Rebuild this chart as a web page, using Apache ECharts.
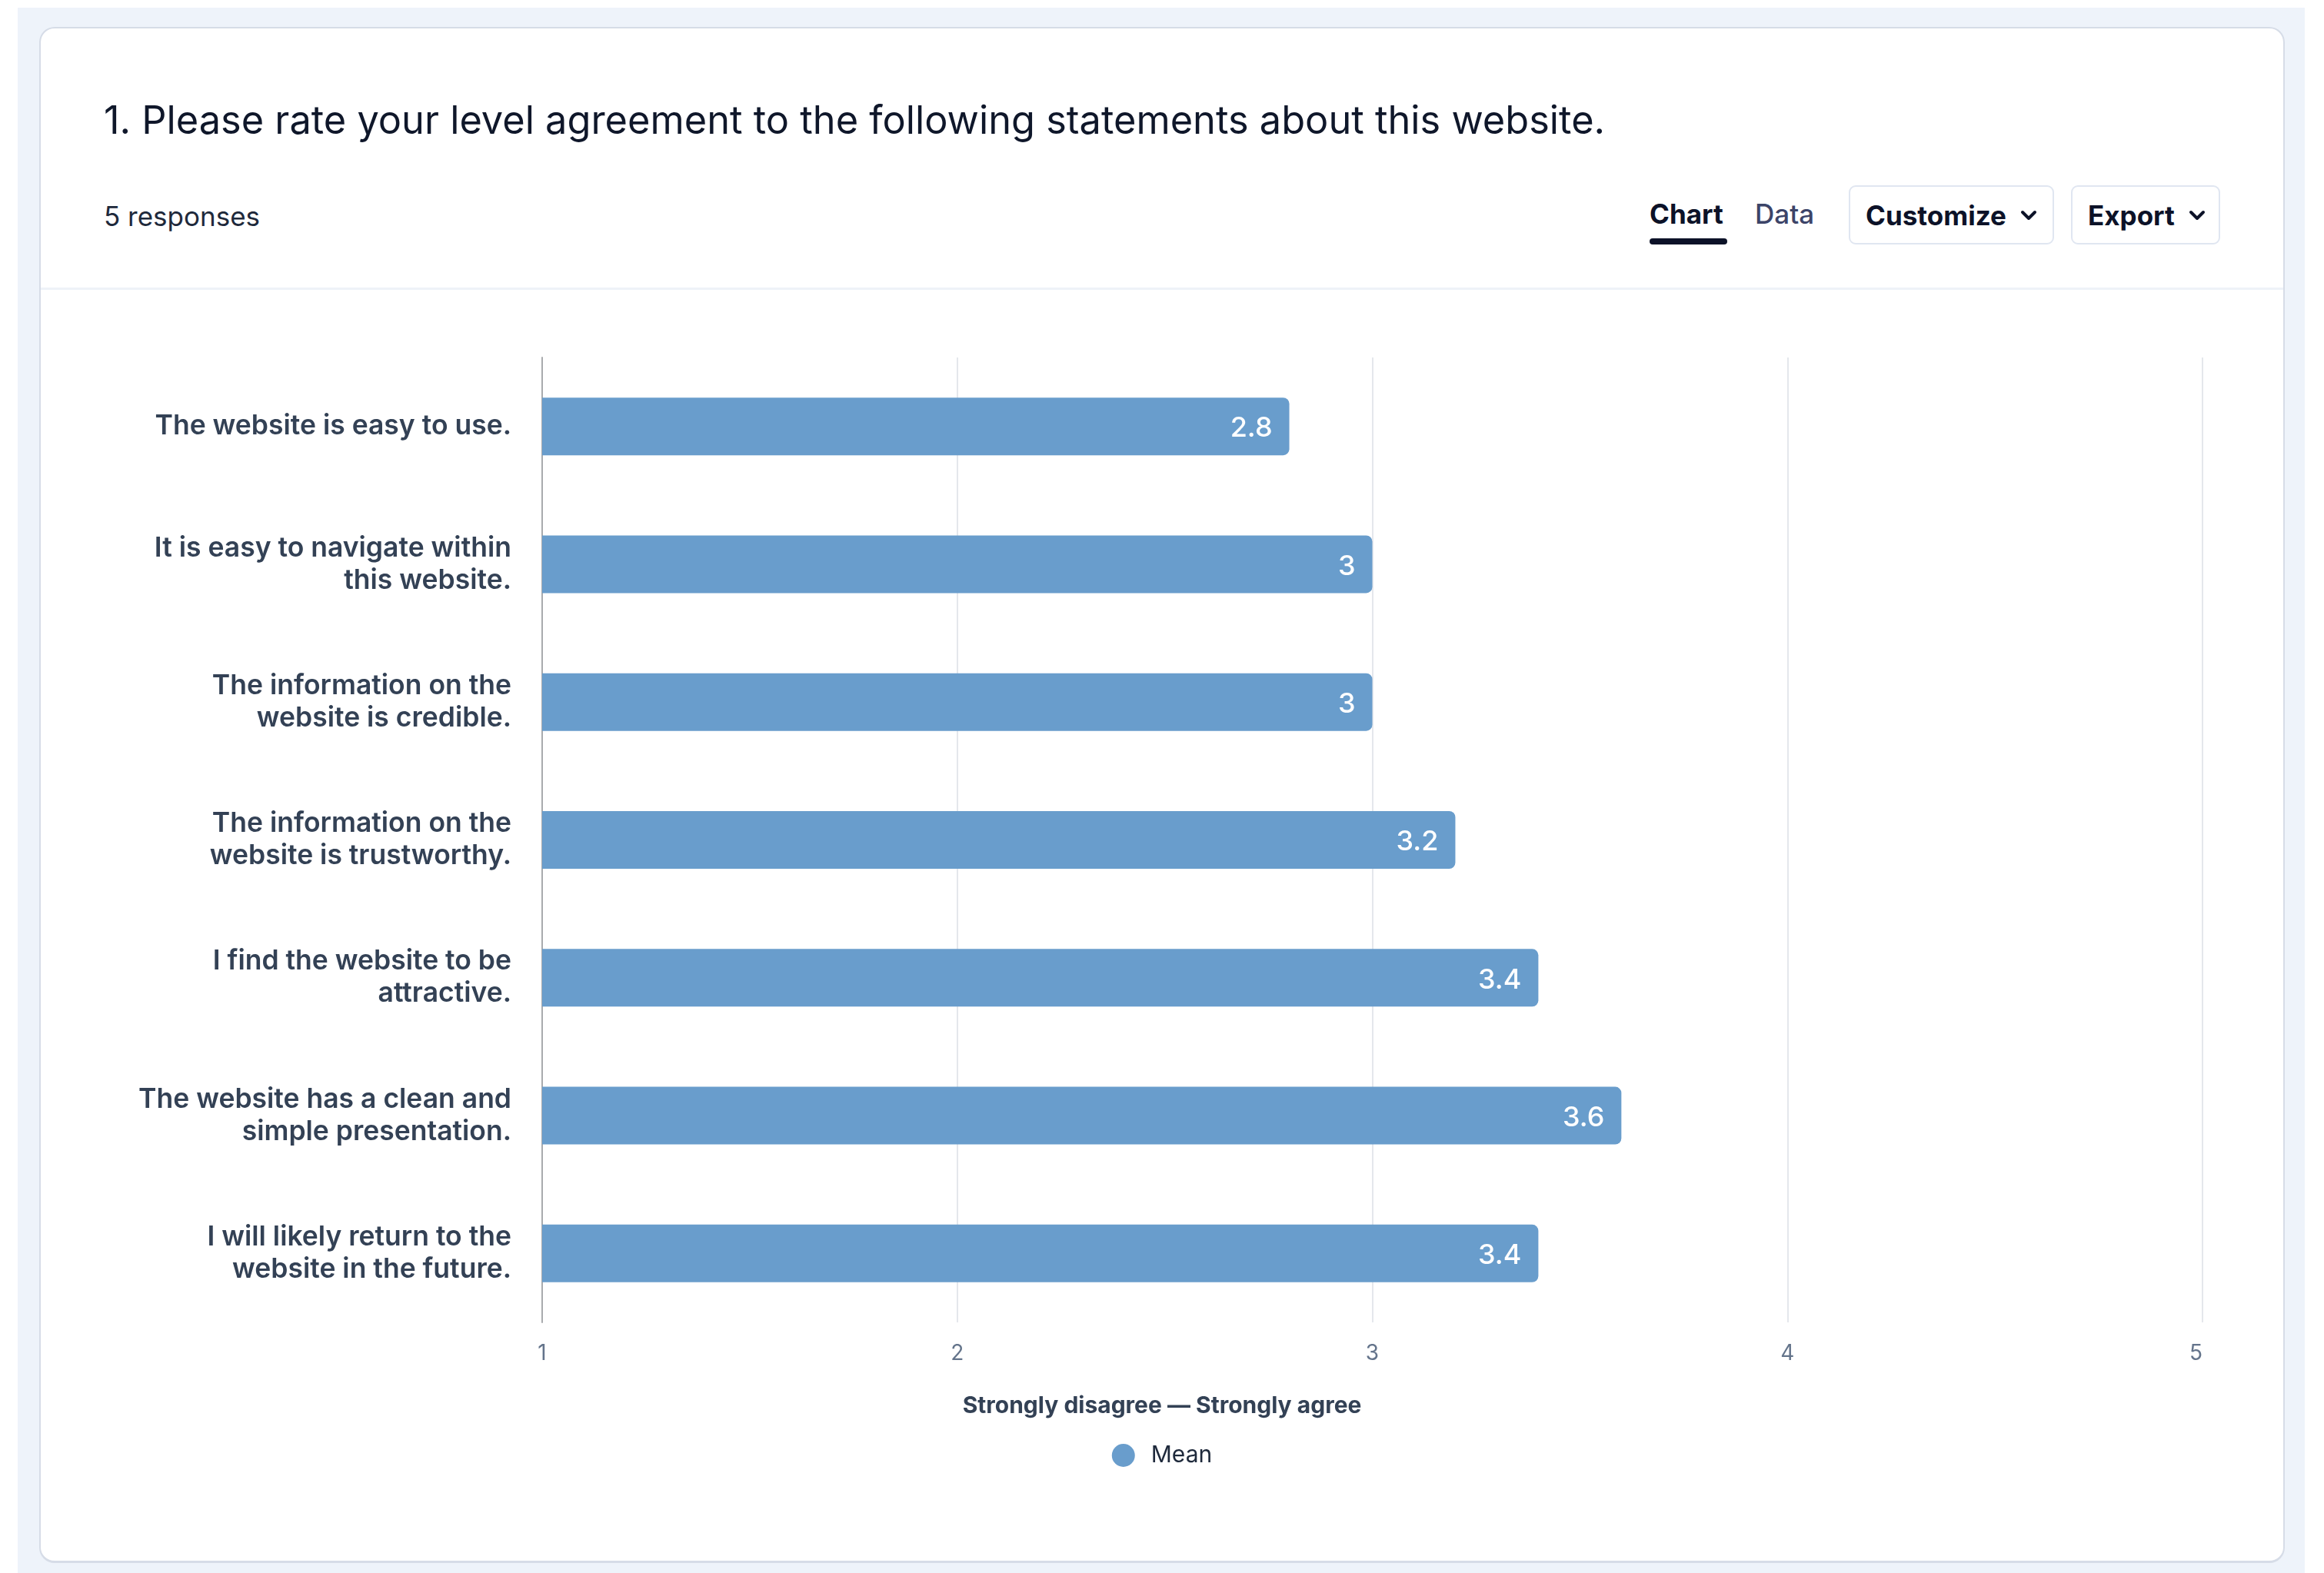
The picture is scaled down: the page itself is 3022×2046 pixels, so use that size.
<!DOCTYPE html>
<html>
<head>
<meta charset="utf-8">
<script src="https://cdn.jsdelivr.net/npm/echarts@6/dist/echarts.min.js"></script>
<style>
  html, body { margin: 0; padding: 0; width: 3022px; height: 2046px; background: #ffffff; overflow: hidden; font-family: Inter, "Noto Sans", sans-serif; }
  .page-bg { position: absolute; left: 23px; top: 10px; width: 2974px; height: 2036px; background: #eef3fa; }
  .card { position: absolute; left: 51px; top: 35px; width: 2920px; height: 1998px; box-sizing: border-box;
          background: #ffffff; border: 2px solid #d6dce7; border-bottom-width: 3px; border-radius: 20px; }
  .txt { position: absolute; white-space: nowrap; line-height: 1; }
  .title { left: 135px; top: 131px; font-size: 50.5px; color: #0f172a; font-weight: 400; }
  .responses { left: 135px; top: 264px; font-size: 35px; color: #1e293b; }
  .tab { top: 261px; font-size: 35px; }
  .tab-chart { left: 2145px; font-weight: 700; color: #0c1228; }
  .tab-data { left: 2282px; font-weight: 500; color: #3c4468; }
  .tab-line { position: absolute; left: 2145px; top: 310px; width: 101px; height: 8px; border-radius: 4px; background: #0c1228; }
  .btn { position: absolute; top: 241px; height: 77px; box-sizing: border-box; border: 2px solid #e0e6f1; border-radius: 9px;
         background: #fff; display: flex; align-items: center; font-size: 35px; font-weight: 700; color: #0c1228; }
  .btn svg { margin-left: 18px; }
  .btn-customize { left: 2404px; width: 267px; padding-left: 20px; }
  .btn-export { left: 2693px; width: 194px; padding-left: 20px; }
  .divider { position: absolute; left: 53px; top: 374px; width: 2916px; height: 3px; background: #eef2f8; }
  #chart { position: absolute; left: 0; top: 0; width: 3022px; height: 2046px; }
</style>
</head>
<body>
<div class="page-bg"></div>
<div class="card"></div>
<div class="txt title">1. Please rate your level agreement to the following statements about this website.</div>
<div class="txt responses">5 responses</div>
<div class="txt tab tab-chart">Chart</div>
<div class="txt tab tab-data">Data</div>
<div class="tab-line"></div>
<div class="btn btn-customize">Customize<svg width="22" height="14" viewBox="0 0 22 14"><polyline points="3,3 11,11 19,3" fill="none" stroke="#0c1228" stroke-width="4" stroke-linecap="round" stroke-linejoin="round"/></svg></div>
<div class="btn btn-export">Export<svg width="22" height="14" viewBox="0 0 22 14"><polyline points="3,3 11,11 19,3" fill="none" stroke="#0c1228" stroke-width="4" stroke-linecap="round" stroke-linejoin="round"/></svg></div>
<div class="divider"></div>
<div id="chart"></div>
<script>
// Survey statements (top to bottom) and their mean scores on a 1-5 scale
const statements = [
  'The website is easy to use.',
  'It is easy to navigate within\nthis website.',
  'The information on the\nwebsite is credible.',
  'The information on the\nwebsite is trustworthy.',
  'I find the website to be\nattractive.',
  'The website has a clean and\nsimple presentation.',
  'I will likely return to the\nwebsite in the future.'
];
const meanScores = [2.8, 3, 3, 3.2, 3.4, 3.6, 3.4];
const scaleTicks = [1, 2, 3, 4, 5];
const scaleName = 'Strongly disagree \u2014 Strongly agree';
const seriesName = 'Mean';

const chart = echarts.init(document.getElementById('chart'), null, { renderer: 'canvas' });
const FONT = 'Inter, "Noto Sans", sans-serif';

chart.setOption({
  backgroundColor: 'transparent',
  animation: false,
  textStyle: { fontFamily: FONT },
  title: {
    text: scaleName,
    left: 'center',
    top: 1814,
    padding: 0,
    textStyle: { fontFamily: FONT, fontSize: 30, fontWeight: 700, color: '#334155' }
  },
  legend: {
    data: [seriesName],
    left: 'center',
    top: 1878,
    padding: 0,
    icon: 'circle',
    itemWidth: 30,
    itemHeight: 30,
    textStyle: { fontFamily: FONT, fontSize: 30, color: '#1e293b', padding: [0, 0, 0, 16] }
  },
  grid: { left: 705, right: 158, top: 465, bottom: 326, containLabel: false },
  xAxis: {
    type: 'value',
    min: scaleTicks[0],
    max: scaleTicks[scaleTicks.length - 1],
    interval: 1,
    axisLine: { show: false },
    axisTick: { show: false },
    splitLine: { show: true, lineStyle: { color: '#e4e7ec', width: 2 } },
    axisLabel: { fontFamily: FONT, fontSize: 28, color: '#64748b', margin: 27, alignMaxLabel: 'right' }
  },
  yAxis: {
    type: 'category',
    data: statements,
    inverse: true,
    axisLine: { show: true, lineStyle: { color: '#a9abae', width: 2 } },
    axisTick: { show: false },
    axisLabel: { fontFamily: FONT, fontSize: 35.5, fontWeight: 600, color: '#334155', lineHeight: 42, margin: 40, align: 'right' }
  },
  series: [{
    name: seriesName,
    type: 'bar',
    data: meanScores,
    barWidth: 75,
    itemStyle: { color: '#699dcc', borderRadius: [0, 8, 8, 0] },
    label: {
      show: true,
      position: 'insideRight',
      distance: 22,
      color: '#ffffff',
      fontFamily: FONT,
      fontSize: 36,
      fontWeight: 500,
      offset: [0, 3]
    }
  }]
});
</script>
</body>
</html>
